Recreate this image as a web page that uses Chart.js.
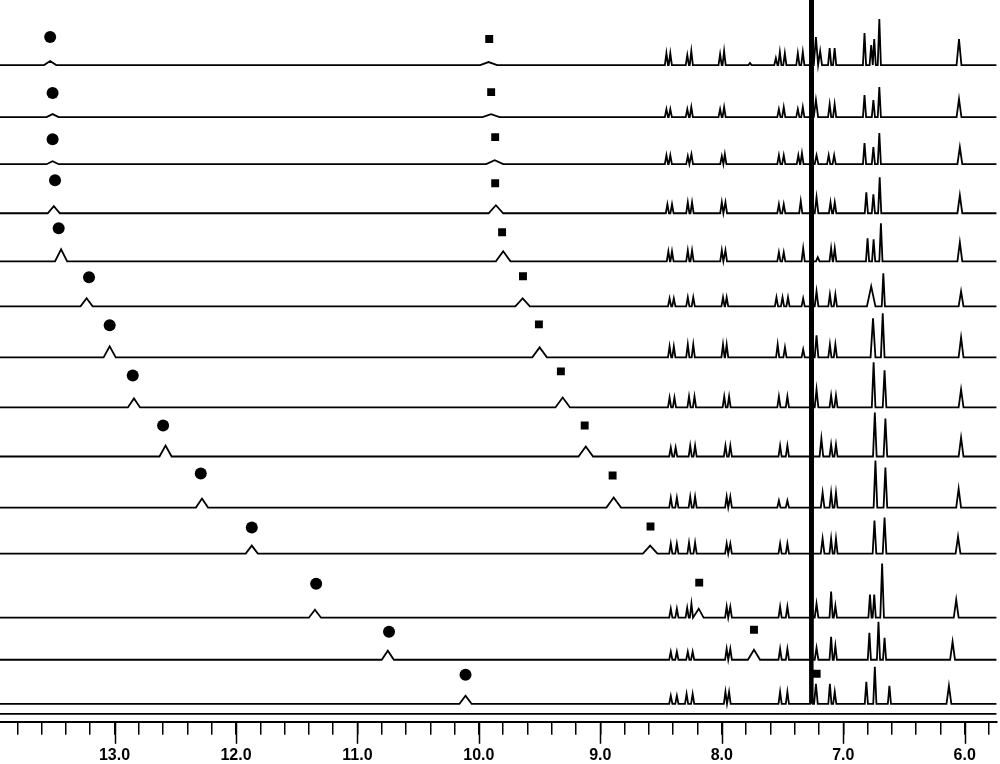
<!DOCTYPE html>
<html lang="en">
<head>
  <meta charset="UTF-8" />
  <title>Stacked 1H NMR spectra</title>
  <script src="https://cdn.jsdelivr.net/npm/chart.js"></script>
  <style>
    html, body { margin: 0; padding: 0; background: #fff; }
    #wrap { width: 1000px; height: 764px; }
  </style>
</head>
<body>
<div id="wrap"><canvas id="nmr"></canvas></div>

<script>
  // chemical shift window (ppm), reversed axis
  const ppmLeft = 13.943;
  const ppmRight = 5.737;
  const majorTicks = [13, 12, 11, 10, 9, 8, 7, 6];

  // peaks per spectrum, top trace first: [ppm, height, half width]
  const spec1 = [[13.53,4,0.05],[9.92,3,0.07],[8.456,12],[8.424,12],[8.284,10],[8.251,14],[8.014,11],[7.981,14],[7.768,2],[7.555,7],[7.522,13],[7.481,12],[7.374,12],[7.333,13],[7.225,28,0.018],[7.19,14,0.015],[7.112,17],[7.071,17],[6.825,32],[6.77,20],[6.745,26],[6.703,46],[6.047,26,0.02]];
  const spec2 = [[13.51,3,0.05],[9.90,3,0.07],[8.456,8],[8.424,8],[8.284,8],[8.251,10],[8.014,8],[7.981,10],[7.53,8],[7.49,10],[7.374,8],[7.333,10],[7.225,17,0.018],[7.112,13],[7.071,13],[6.825,22],[6.752,17],[6.703,30],[6.047,18,0.02]];
  const spec3 = [[13.51,3,0.05],[9.87,4,0.07],[8.456,9],[8.424,9],[8.28,8],[8.25,10],[8.00,8],[7.975,10],[7.53,9],[7.49,9],[7.37,9],[7.34,11],[7.22,9,0.015],[7.12,9],[7.075,9],[6.825,21],[6.752,17],[6.703,31],[6.04,17,0.02]];
  const spec4 = [[13.50,7,0.05],[9.86,8,0.06],[8.448,9],[8.41,9],[8.28,11],[8.245,11],[8.00,11],[7.97,11],[7.53,9],[7.49,9],[7.35,12],[7.22,16,0.015],[7.105,11],[7.07,11],[6.81,21],[6.752,19],[6.70,36],[6.04,18,0.02]];
  const spec5 = [[13.44,12,0.05],[9.80,10,0.06],[8.44,10],[8.41,10],[8.28,11],[8.245,11],[8.00,11],[7.97,11],[7.53,9],[7.49,9],[7.33,13],[7.21,4,0.015],[7.10,13],[7.07,13],[6.80,23],[6.75,22],[6.69,38],[6.04,19,0.02]];
  const spec6 = [[13.23,8,0.05],[9.64,8,0.06],[8.43,8],[8.395,8],[8.28,9],[8.235,9],[7.99,9],[7.96,9],[7.55,9],[7.50,9],[7.455,9],[7.33,8],[7.22,15,0.015],[7.11,12],[7.065,12],[6.77,20,0.035],[6.67,33],[6.03,15,0.02]];
  const spec7 = [[13.04,11,0.05],[9.50,10,0.06],[8.43,11],[8.395,11],[8.28,13],[8.235,13],[7.99,13],[7.96,13],[7.54,13],[7.48,10],[7.33,8],[7.22,22,0.015],[7.11,13],[7.065,13],[6.755,39,0.02],[6.675,44,0.015],[6.03,20,0.02]];
  const spec8 = [[12.84,9,0.05],[9.31,10,0.06],[8.43,10],[8.39,10],[8.27,11],[8.225,11],[7.98,11],[7.94,11],[7.53,11],[7.46,11],[7.22,18,0.015],[7.10,12],[7.06,12],[6.75,45,0.015],[6.66,37,0.015],[6.03,18,0.02]];
  const spec9 = [[12.58,11,0.05],[9.12,10,0.06],[8.42,9],[8.38,9],[8.26,11],[8.22,11],[7.97,11],[7.93,11],[7.52,11],[7.46,11],[7.18,18,0.015],[7.10,12],[7.06,12],[6.74,44,0.015],[6.653,38,0.015],[6.03,19,0.02]];
  const spec10 = [[12.28,9,0.05],[8.89,10,0.06],[8.42,10],[8.37,10],[8.26,11],[8.22,11],[7.96,11],[7.93,11],[7.53,7],[7.46,7],[7.17,15,0.015],[7.10,15],[7.06,15],[6.735,47,0.015],[6.653,40,0.015],[6.05,19,0.02]];
  const spec11 = [[11.87,8,0.05],[8.59,8,0.06],[8.42,10],[8.37,10],[8.27,11],[8.22,11],[7.96,10],[7.93,10],[7.52,10],[7.46,10],[7.17,15,0.015],[7.10,15],[7.06,15],[6.743,33,0.015],[6.66,36,0.015],[6.055,17,0.02]];
  const spec12 = [[11.35,8,0.05],[8.42,9],[8.37,9],[8.285,10],[8.25,14],[8.19,9,0.04],[7.96,11],[7.93,11],[7.52,11],[7.46,11],[7.22,14,0.015],[7.10,26],[7.065,12],[6.78,23],[6.745,23],[6.68,54,0.015],[6.07,18,0.02]];
  const spec13 = [[10.75,9,0.05],[8.42,8],[8.37,8],[8.28,8],[8.24,8],[7.96,11],[7.93,11],[7.735,10,0.05],[7.52,11],[7.46,11],[7.22,12,0.015],[7.10,23],[7.065,14],[6.785,27],[6.71,38],[6.66,22],[6.10,18,0.02]];
  const spec14 = [[10.11,8,0.05],[8.42,8],[8.37,8],[8.29,10],[8.24,10],[7.97,12],[7.94,12],[7.52,12],[7.46,12],[7.225,20,0.015],[7.11,20],[7.07,12],[6.81,22],[6.74,37],[6.62,18],[6.13,18,0.02]];
  const spectra = [spec1, spec2, spec3, spec4, spec5, spec6, spec7, spec8, spec9, spec10, spec11, spec12, spec13, spec14];

  // CHCl3 line, off scale in every trace
  const solventPeak = [[7.274,3000,0.0075],[7.259,3000,0.0075]];

  // marked signals: circle (NH) and square
  const circlePpm = [13.53,13.51,13.51,13.49,13.46,13.21,13.04,12.85,12.60,12.29,11.87,11.34,10.74,10.11];
  const circleHeight = [28,24,25,33,33,29,32,32,31,34,26,34,28,29];
  const squarePpm = [9.915,9.899,9.866,9.866,9.809,9.637,9.506,9.325,9.129,8.899,8.587,8.186,7.735,7.219];
  const squareHeight = [26,25,27,30,29,30,33,36,31,32,27,35,30,30];

  // stacking of the traces (units above the axis line)
  const traceOffsets = [656,604,557,508,460,415,364,314,265,214,168,104,62,18];
  const extraBaseline = 8;

  function tracePoints(peaks, offset) {
    const pts = [{ x: ppmLeft, y: offset }];
    peaks.concat(solventPeak).sort((a, b) => b[0] - a[0]).forEach(p => {
      const hw = p[2] || 0.013;
      pts.push({ x: p[0] + hw, y: offset }, { x: p[0], y: offset + p[1] }, { x: p[0] - hw, y: offset });
    });
    pts.push({ x: ppmRight, y: offset });
    return pts;
  }

  const isMajor = v => majorTicks.some(m => Math.abs(m - v) < 1e-6);

  const datasets = spectra.map((s, i) => ({
    data: tracePoints(s, traceOffsets[i]),
    borderColor: '#000',
    borderWidth: 1.8,
    pointRadius: 0,
    tension: 0
  }));

  datasets.push({
    data: [{ x: ppmLeft, y: extraBaseline }, { x: ppmRight, y: extraBaseline }],
    borderColor: '#000',
    borderWidth: 1.8,
    pointRadius: 0
  });

  datasets.push({
    type: 'scatter',
    data: circlePpm.map((p, i) => ({ x: p, y: traceOffsets[i] + circleHeight[i] })),
    pointStyle: 'circle',
    pointRadius: 6,
    backgroundColor: '#000',
    borderWidth: 0
  });

  datasets.push({
    type: 'scatter',
    data: squarePpm.map((p, i) => ({ x: p, y: traceOffsets[i] + squareHeight[i] })),
    pointStyle: 'rect',
    pointRadius: 5.6,
    backgroundColor: '#000',
    borderWidth: 0
  });

  // longer marks for whole ppm values
  const majorTickPlugin = {
    id: 'majorTicks',
    afterDraw(chart) {
      const xs = chart.scales.x;
      const ctx = chart.ctx;
      ctx.save();
      ctx.strokeStyle = '#000';
      ctx.lineWidth = 1.5;
      majorTicks.forEach(v => {
        const px = Math.round(xs.getPixelForValue(v)) + 0.5;
        ctx.beginPath();
        ctx.moveTo(px, xs.top);
        ctx.lineTo(px, xs.top + 22);
        ctx.stroke();
      });
      ctx.restore();
    }
  };

  new Chart(document.getElementById('nmr'), {
    type: 'line',
    data: { datasets },
    plugins: [majorTickPlugin],
    options: {
      responsive: true,
      maintainAspectRatio: false,
      animation: false,
      events: [],
      layout: { padding: { top: 0, left: 0, right: 0, bottom: -12 }, autoPadding: false },
      plugins: { legend: { display: false }, tooltip: { enabled: false } },
      scales: {
        x: {
          type: 'linear',
          reverse: true,
          min: ppmRight,
          max: ppmLeft,
          border: { display: true, color: '#000', width: 2 },
          grid: { drawOnChartArea: false, drawTicks: true, tickLength: 13, color: '#000', lineWidth: 1.5 },
          ticks: {
            stepSize: 0.2,
            includeBounds: false,
            autoSkip: false,
            maxRotation: 0,
            padding: 11,
            color: '#000',
            font: { family: '"Liberation Sans", Arial, sans-serif', size: 16, weight: 'bold' },
            callback: v => isMajor(v) ? Math.round(v).toFixed(1) : ''
          }
        },
        y: { display: false, min: 0, max: 721 }
      }
    }
  });
</script>
</body>
</html>
